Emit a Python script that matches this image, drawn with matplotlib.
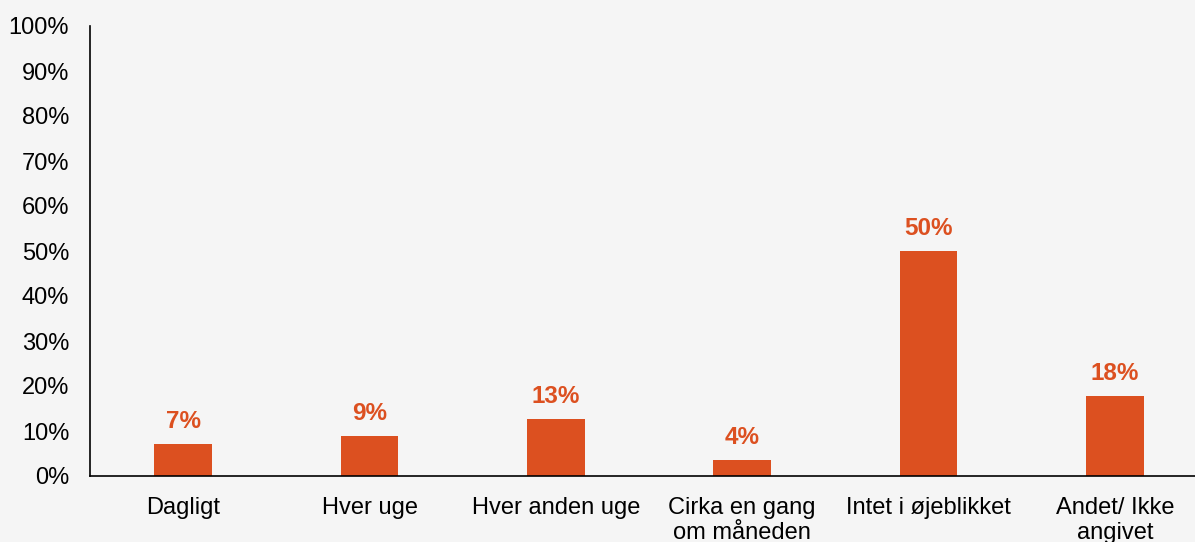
import matplotlib.pyplot as plt
import numpy as np

categories = ['Dagligt', 'Hver uge', 'Hver anden uge', 'Cirka en gang\nom måneden',
              'Intet i øjeblikket', 'Andet/ Ikke\nangivet']
values = [7.1, 8.9, 12.6, 3.6, 50.0, 17.8]
bar_color = '#dc5020'
bg = '#f5f5f5'

plt.rcParams['font.family'] = ['Liberation Sans', 'DejaVu Sans']

fig = plt.figure(figsize=(11.95, 5.42), dpi=100, facecolor=bg)
ax = fig.add_axes([90 / 1195, 66 / 542, 1 - 90 / 1195, 450 / 542])
ax.set_facecolor(bg)

x = np.arange(len(categories))
bars = ax.bar(x, values, width=0.31, color=bar_color)

for xi, v in zip(x, values):
    ax.annotate(f'{v:.0f}%', (xi, v), xytext=(0, 8), textcoords='offset points',
                ha='center', va='bottom', color=bar_color, fontsize=17.5, fontweight='bold')

ax.set_ylim(0, 100)
ax.set_xlim(-0.5, 5.43)
ax.set_yticks(range(0, 101, 10))
ax.set_yticklabels([f'{t}%' for t in range(0, 101, 10)])
ax.set_xticks(x)
ax.set_xticklabels(categories, linespacing=1.2)
ax.tick_params(axis='both', length=0, labelsize=17, colors='black')
ax.tick_params(axis='x', pad=15)
ax.tick_params(axis='y', pad=15)

for s in ['top', 'right']:
    ax.spines[s].set_visible(False)
for s in ['left', 'bottom']:
    ax.spines[s].set_color('black')
    ax.spines[s].set_linewidth(1.2)

fig.savefig('out.png', dpi=100, facecolor=bg)
